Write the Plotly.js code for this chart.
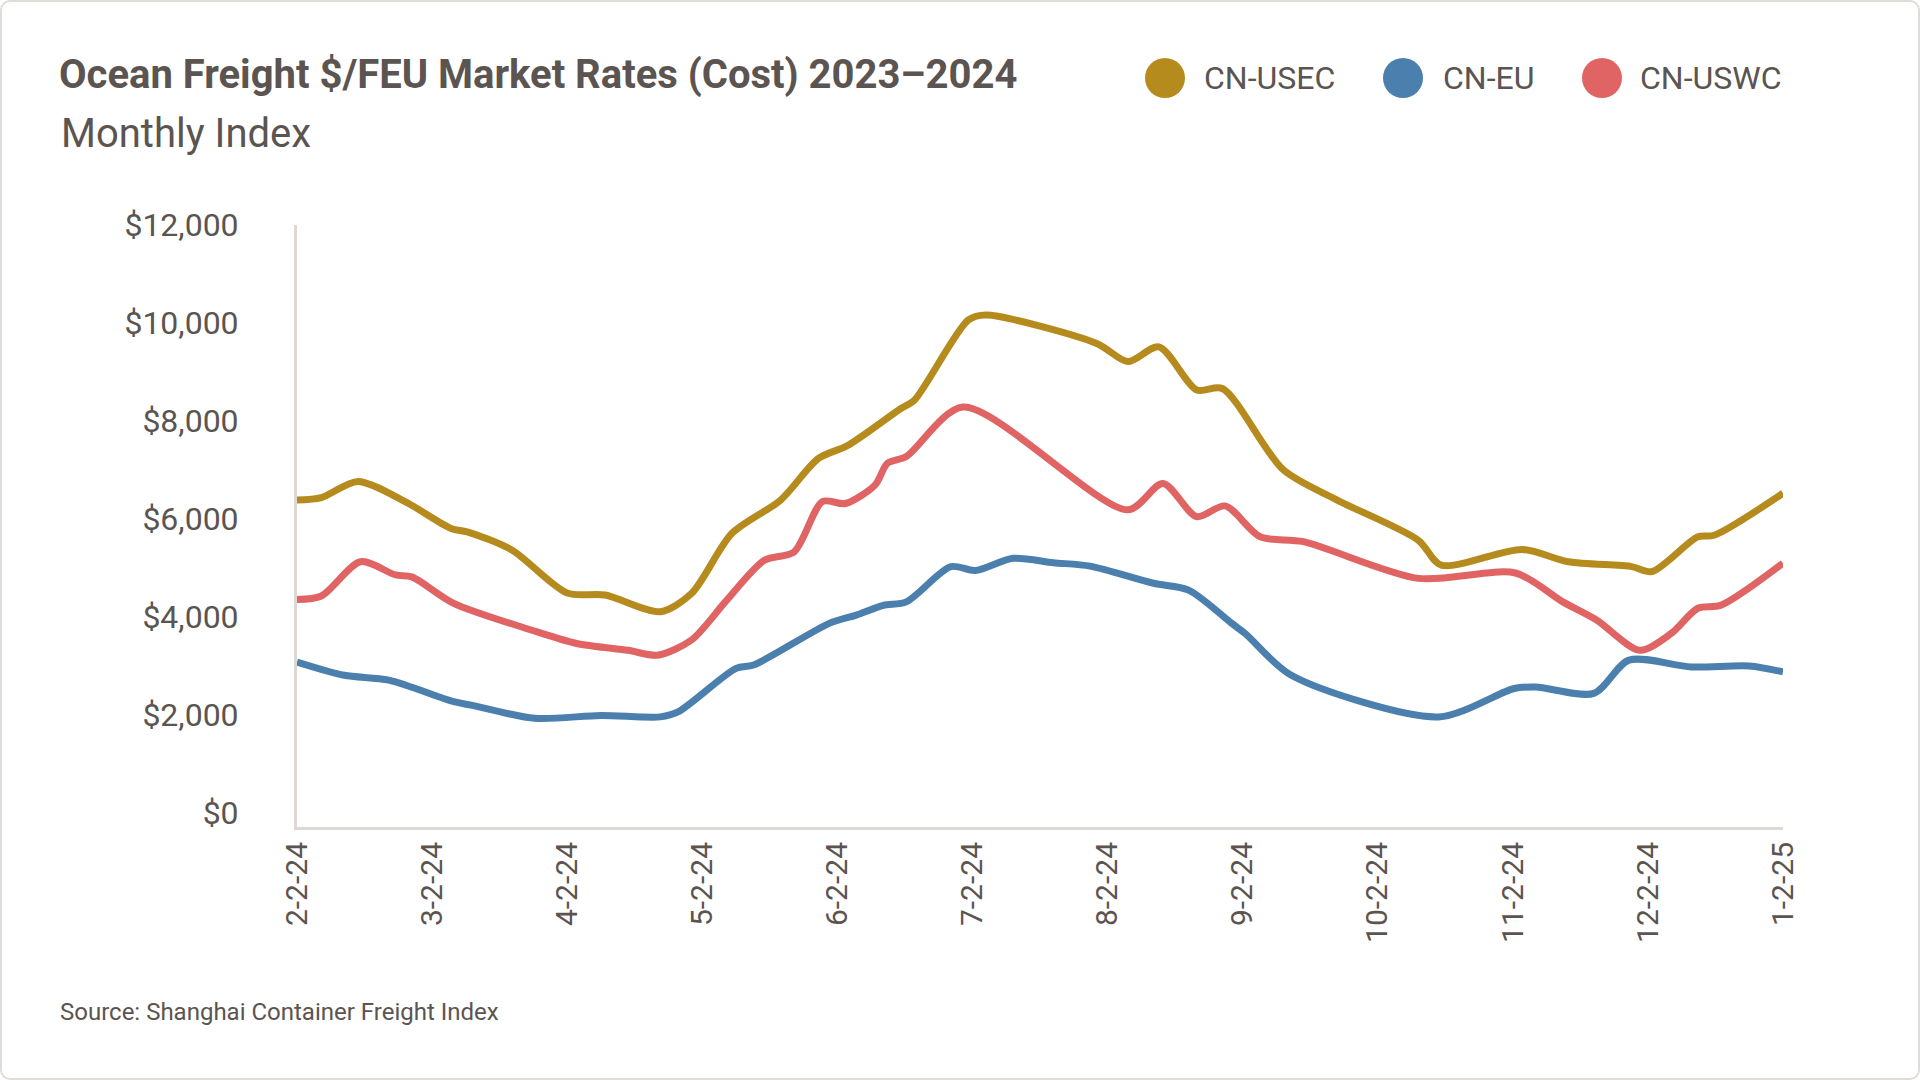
<!DOCTYPE html>
<html>
<head>
<meta charset="utf-8">
<script src="https://cdn.plot.ly/plotly-3.0.1.min.js"></script>
<style>
  html, body { margin: 0; padding: 0; background: #ffffff; }
  #wrap { position: relative; width: 1920px; height: 1080px; }
  #chart { width: 1920px; height: 1080px; }
  #frame { position: absolute; left: 0; top: 0; width: 1920px; height: 1080px; box-sizing: border-box;
           border: 2px solid #e0dcd7; border-radius: 10px; pointer-events: none; }
</style>
</head>
<body>
<div id="wrap"><div id="chart"></div><div id="frame"></div></div>
<script>
// Month tick labels (x axis is month index: 0 = 2-2-24 ... 11 = 1-2-25)
const monthLabels = ['2-2-24','3-2-24','4-2-24','5-2-24','6-2-24','7-2-24','8-2-24','9-2-24','10-2-24','11-2-24','12-2-24','1-2-25'];

const seriesNames = ['CN-USEC', 'CN-EU', 'CN-USWC'];
const seriesColors = ['#b68b1e', '#4a7fae', '#e06464'];

// CN-USEC
const usecX = [0, 0.18, 0.45, 0.8, 1.14, 1.26, 1.59, 2.0, 2.28, 2.69, 2.92, 3.22, 3.58, 3.86, 4.08, 4.47, 4.57, 4.97, 5.1, 5.92, 6.15, 6.38, 6.66, 6.85, 7.3, 7.7, 8.3, 8.47, 9.07, 9.41, 9.88, 10.03, 10.37, 10.49, 11];
const usecY = [6380, 6430, 6760, 6350, 5800, 5730, 5360, 4480, 4440, 4100, 4470, 5700, 6380, 7230, 7500, 8250, 8420, 10060, 10160, 9580, 9210, 9510, 8630, 8660, 7000, 6380, 5560, 5050, 5370, 5120, 5020, 4920, 5630, 5660, 6520];

// CN-EU
const euX = [0, 0.35, 0.68, 1.16, 1.29, 1.76, 2.25, 2.69, 2.82, 3.25, 3.38, 3.94, 4.14, 4.34, 4.51, 4.84, 5.02, 5.30, 5.60, 5.87, 6.34, 6.60, 6.92, 7.02, 7.36, 8.45, 9.01, 9.17, 9.60, 9.86, 10.32, 10.75, 11];
const euY = [3070, 2800, 2700, 2260, 2190, 1920, 1980, 1950, 2050, 2940, 3010, 3860, 4030, 4230, 4300, 5020, 4940, 5190, 5100, 5030, 4680, 4540, 3860, 3650, 2800, 1950, 2530, 2560, 2430, 3110, 2970, 2990, 2870];

// CN-USWC
const uswcX = [0, 0.18, 0.47, 0.73, 0.85, 1.16, 1.74, 2.07, 2.45, 2.67, 2.92, 3.18, 3.46, 3.68, 3.89, 4.06, 4.28, 4.37, 4.51, 4.93, 6.15, 6.41, 6.66, 6.87, 7.13, 7.45, 8.30, 9.02, 9.37, 9.62, 9.94, 10.17, 10.37, 10.54, 11];
const uswcY = [4350, 4420, 5120, 4850, 4810, 4270, 3720, 3450, 3310, 3210, 3520, 4330, 5150, 5320, 6350, 6310, 6690, 7130, 7270, 8280, 6180, 6720, 6040, 6260, 5630, 5530, 4780, 4890, 4300, 3930, 3310, 3650, 4170, 4230, 5090];

const yTickVals = [0, 2000, 4000, 6000, 8000, 10000, 12000];

const textColor = '#5b5450';
const axisColor = '#dcd8d3';
const FONT = 'Roboto, "Noto Sans", sans-serif';

const xs = [usecX, euX, uswcX];
const ys = [usecY, euY, uswcY];
const order = [1, 2, 0]; // draw order: EU, USWC, USEC on top

const traces = order.map(i => ({
  type: 'scatter', mode: 'lines', name: seriesNames[i],
  x: xs[i], y: ys[i],
  line: { color: seriesColors[i], width: 7, shape: 'spline', smoothing: 0.8 },
  hoverinfo: 'skip', showlegend: false
}));

// Plot area geometry (for legend placement in paper coords)
const W = 1920, H = 1080;
const mL = 297, mR = 137, mT = 225, mB = 253;
const pw = W - mL - mR, ph = H - mT - mB;
const px = v => (v - mL) / pw;
const py = v => (H - mB - v) / ph;

const legendCircleX = [1165, 1403, 1602];
const legendTextX = [1202, 1441, 1638];
const legendY = 78;

const shapes = seriesNames.map((n, i) => ({
  type: 'circle', xref: 'paper', yref: 'paper',
  xsizemode: 'pixel', ysizemode: 'pixel',
  xanchor: px(legendCircleX[i]), yanchor: py(legendY),
  x0: -20, x1: 20, y0: -20, y1: 20,
  fillcolor: seriesColors[i], line: { width: 0 }
}));

const annotations = seriesNames.map((n, i) => ({
  text: n, xref: 'paper', yref: 'paper',
  x: px(legendTextX[i]), y: py(legendY), xanchor: 'left', yanchor: 'middle',
  showarrow: false, font: { family: FONT, size: 32, color: textColor }
}));
annotations.push({
  text: 'Monthly Index', xref: 'paper', yref: 'paper',
  x: px(59), y: py(134), xanchor: 'left', yanchor: 'middle',
  showarrow: false, font: { family: FONT, size: 40, color: textColor }
});
annotations.push({
  text: 'Source: Shanghai Container Freight Index', xref: 'paper', yref: 'paper',
  x: px(58), y: py(1012), xanchor: 'left', yanchor: 'middle',
  showarrow: false, font: { family: FONT, size: 24, color: textColor }
});

const layout = {
  width: W, height: H,
  margin: { l: mL, r: mR, t: mT, b: mB },
  paper_bgcolor: '#ffffff', plot_bgcolor: '#ffffff',
  font: { family: FONT, color: textColor },
  title: {
    text: '<b>Ocean Freight $/FEU Market Rates (Cost) 2023–2024</b>',
    xref: 'container', yref: 'container',
    x: 59 / W, xanchor: 'left', y: 1 - 74 / H, yanchor: 'middle',
    font: { family: FONT, size: 40, color: textColor }
  },
  showlegend: false,
  xaxis: {
    type: 'linear', range: [0, 11],
    tickmode: 'array', tickvals: monthLabels.map((_, i) => i), ticktext: monthLabels,
    tickangle: -90, ticks: '',
    tickfont: { family: FONT, size: 30, color: textColor },
    showgrid: false, zeroline: false,
    showline: true, linecolor: axisColor, linewidth: 3
  },
  yaxis: {
    range: [-300, 12000],
    tickmode: 'array', tickvals: yTickVals,
    ticktext: yTickVals.map(v => '$' + v.toLocaleString('en-US')),
    ticks: 'outside', ticklen: 49, tickcolor: 'rgba(0,0,0,0)',
    tickfont: { family: FONT, size: 32, color: textColor },
    showgrid: false, zeroline: false,
    showline: true, linecolor: axisColor, linewidth: 3
  },
  shapes: shapes,
  annotations: annotations
};

Plotly.newPlot('chart', traces, layout, { displayModeBar: false, staticPlot: true });
</script>
</body>
</html>
